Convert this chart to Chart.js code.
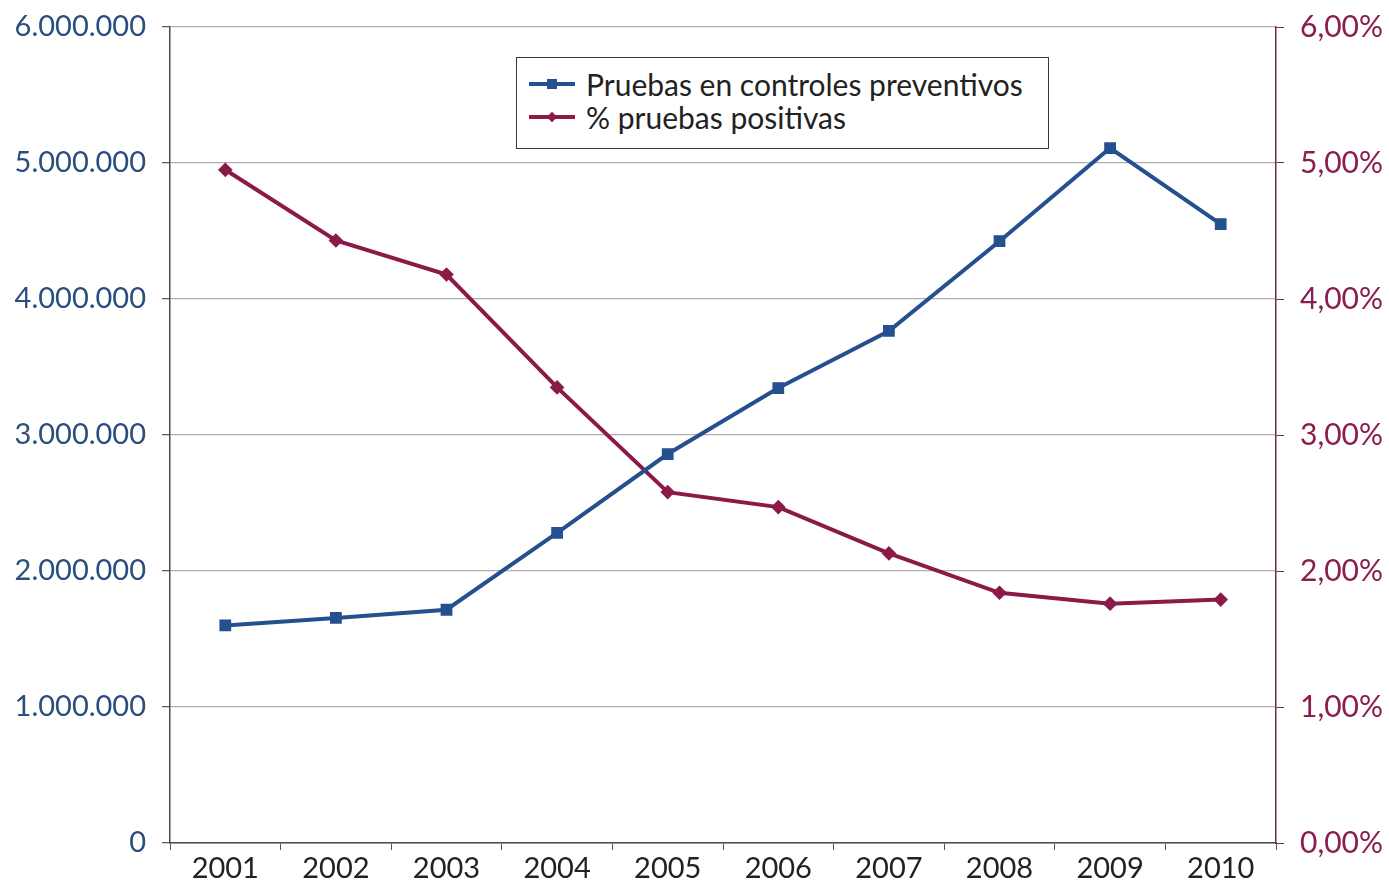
<!DOCTYPE html>
<html lang="es">
<head>
    <meta charset="UTF-8">
    <title>Pruebas en controles preventivos y % pruebas positivas</title>
    <script src="https://cdn.jsdelivr.net/npm/chart.js"></script>
    <style>
        body { margin: 0; background: #fff; }
        #wrap { position: relative; width: 1389px; height: 888px; }
        #legend {
            position: absolute; left: 516px; top: 57px; width: 533px; height: 92px;
            border: 1.5px solid #3a3a3a; background: #fff; box-sizing: border-box;
            font-family: Lato, "Open Sans", sans-serif; font-size: 30px; color: #222;
            padding-top: 9px;
        }
        .item { display: flex; align-items: center; height: 33px; }
        .sym { position: relative; width: 46px; height: 4px; margin: 0 11px 0 12px; }
        .sym i { position: absolute; left: 18px; top: -3px; width: 10px; height: 10px; }
    </style>
</head>
<body>
<div id="wrap">
    <canvas id="chart"></canvas>
    <div id="legend">
        <div class="item"><span class="sym" style="background:#24508f"><i style="background:#24508f"></i></span>Pruebas en controles preventivos</div>
        <div class="item"><span class="sym" style="background:#8c1a48"><i style="background:#8c1a48;transform:rotate(45deg) scale(0.75)"></i></span>% pruebas positivas</div>
    </div>
</div>

<script>
    const years = ['2001', '2002', '2003', '2004', '2005', '2006', '2007', '2008', '2009', '2010'];
    const pruebas = [1600000, 1655000, 1715000, 2280000, 2860000, 3345000, 3765000, 4425000, 5110000, 4550000];
    const positivas = [4.95, 4.43, 4.18, 3.35, 2.58, 2.47, 2.13, 1.84, 1.76, 1.79];

    const blue = '#24508f';
    const red = '#8c1a48';
    const font = { family: 'Lato, "Open Sans", sans-serif', size: 29 };

    function miles(v) {
        return String(v).replace(/\B(?=(\d{3})+(?!\d))/g, '.');
    }

    // ancho fijo del eje y sin relleno extra arriba/abajo
    function fixY(width) {
        return function(s) {
            s.width = width;
            s.paddingTop = 0;
            s.paddingBottom = 0;
        };
    }

    const ctx = document.getElementById('chart').getContext('2d');
    new Chart(ctx, {
        type: 'line',
        data: {
            labels: years,
            datasets: [{
                label: 'Pruebas en controles preventivos',
                data: pruebas,
                yAxisID: 'y',
                borderColor: blue,
                backgroundColor: blue,
                borderWidth: 4,
                pointStyle: 'rect',
                pointRadius: 5.5,
                tension: 0
            }, {
                label: '% pruebas positivas',
                data: positivas,
                yAxisID: 'y1',
                borderColor: red,
                backgroundColor: red,
                borderWidth: 4,
                pointStyle: 'rectRot',
                pointRadius: 4.5,
                tension: 0
            }]
        },
        options: {
            responsive: true,
            maintainAspectRatio: false,
            animation: false,
            layout: { padding: { top: 27, right: 0, bottom: 0, left: 0 } },
            plugins: {
                legend: { display: false },
                tooltip: { enabled: false }
            },
            scales: {
                x: {
                    offset: true,
                    afterFit: function(s) { s.height = 45; },
                    border: { color: '#4a4a4a', width: 1.5 },
                    grid: { offset: true, drawOnChartArea: false, tickLength: 7, tickColor: '#555' },
                    ticks: { color: '#222', font: font, padding: 1, maxRotation: 0 }
                },
                y: {
                    position: 'left',
                    min: 0,
                    max: 6000000,
                    afterFit: fixY(170),
                    border: { color: '#4a4a4a', width: 1.5 },
                    grid: { color: '#b0b0b0', lineWidth: 1.2, tickLength: 8, tickColor: '#555' },
                    ticks: {
                        stepSize: 1000000,
                        color: '#2a4f7c',
                        font: font,
                        padding: 16,
                        callback: function(value) { return miles(value); }
                    }
                },
                y1: {
                    position: 'right',
                    min: 0,
                    max: 6,
                    afterFit: fixY(113),
                    border: { color: '#6e2a48', width: 1.5 },
                    grid: { drawOnChartArea: false, tickLength: 8, tickColor: '#6e2a48' },
                    ticks: {
                        stepSize: 1,
                        color: '#8a1d4e',
                        font: { family: font.family, size: 30 },
                        padding: 16,
                        callback: function(value) { return value.toFixed(2).replace('.', ',') + '%'; }
                    }
                }
            }
        }
    });
</script>
</body>
</html>
